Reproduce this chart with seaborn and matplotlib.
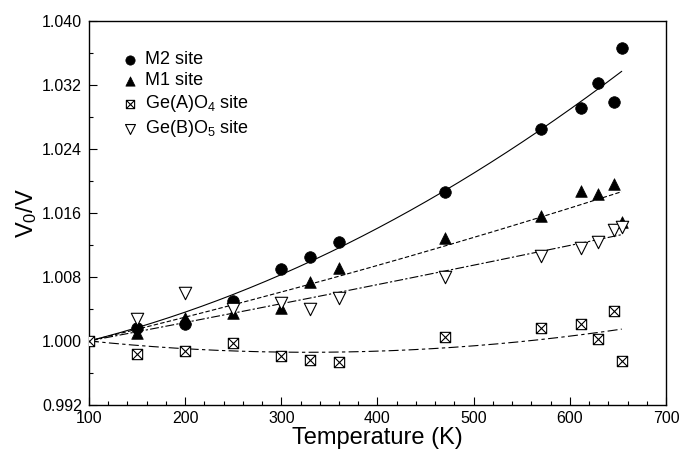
import numpy as np
import pandas as pd
import matplotlib
matplotlib.use("Agg")
import matplotlib.pyplot as plt
from matplotlib.path import Path
import seaborn as sns

# ---- data ----
temps = [100, 150, 200, 250, 300, 330, 360, 470, 570, 612, 629, 646, 654]
m2 = [1.0000, 1.00159, 1.00210, 1.00504, 1.00900, 1.01046, 1.01241, 1.01859, 1.02646, 1.02909, 1.03221, 1.02979, 1.03659]
m1 = [1.0000, 1.00104, 1.00284, 1.00346, 1.00409, 1.00741, 1.00909, 1.01284, 1.01563, 1.01875, 1.01834, 1.01959, 1.01491]
geA = [1.0000, 0.99834, 0.99875, 0.99979, 0.99813, 0.99763, 0.99741, 1.00046, 1.00159, 1.00213, 1.00021, 1.00379, 0.99754]
geB = [1.0000, 1.00271, 1.00604, 1.00396, 1.00471, 1.00396, 1.00534, 1.00804, 1.01063, 1.01159, 1.01241, 1.01388, 1.01420]
labels = ["M2 site", "M1 site", "Ge(A)O$_4$ site", "Ge(B)O$_5$ site"]
xticks = [100, 200, 300, 400, 500, 600, 700]
yticks = [0.992, 1.000, 1.008, 1.016, 1.024, 1.032, 1.040]

sns.set_style("ticks")
plt.rcParams["font.family"] = ["Liberation Sans", "DejaVu Sans"]
plt.rcParams["mathtext.fontset"] = "custom"
plt.rcParams["mathtext.rm"] = "Liberation Sans"
plt.rcParams["mathtext.it"] = "Liberation Sans:italic"
plt.rcParams["text.color"] = "black"
plt.rcParams["axes.labelcolor"] = "black"
plt.rcParams["xtick.color"] = "black"
plt.rcParams["ytick.color"] = "black"
plt.rcParams["axes.edgecolor"] = "black"

fig = plt.figure(figsize=(6.82, 4.5), dpi=100)
ax = fig.add_axes([0.1305, 0.10, 0.846, 0.854])

T = np.array(temps, dtype=float)


def fit_curve(y):
    y = np.array(y)
    dT = T - 100
    A = np.column_stack([dT, dT ** 2])
    coef, *_ = np.linalg.lstsq(A, y - 1, rcond=None)
    tf = np.linspace(100, 654, 200)
    return tf, 1 + coef[0] * (tf - 100) + coef[1] * (tf - 100) ** 2


# custom box-with-cross marker
box_x = Path([(-1, -1), (1, -1), (1, 1), (-1, 1), (-1, -1),
              (-1, -1), (1, 1), (-1, 1), (1, -1)],
             [Path.MOVETO, Path.LINETO, Path.LINETO, Path.LINETO, Path.CLOSEPOLY,
              Path.MOVETO, Path.LINETO, Path.MOVETO, Path.LINETO])

series = [
    (m2, "-", dict(marker="o", s=70, color="black", edgecolor="black", linewidth=0.5), slice(1, None)),
    (m1, (0, (4, 2)), dict(marker="^", s=70, color="black", edgecolor="black", linewidth=0.5), slice(1, None)),
    (geA, (0, (9, 3, 3, 3)), dict(marker=box_x, s=55, facecolor="white", edgecolor="black", linewidth=0.8), slice(0, None)),
    (geB, (0, (8, 2, 2, 2)), dict(marker="v", s=80, facecolor="white", edgecolor="black", linewidth=0.8), slice(1, None)),
]

handles = []
for vals, ls, kw, sl in series:
    tf, yf = fit_curve(vals)
    sns.lineplot(x=tf, y=yf, ax=ax, color="black", linewidth=0.8, linestyle=ls)
for (vals, ls, kw, sl), lab in zip(series, labels):
    df = pd.DataFrame({"T": T[sl], "v": np.array(vals)[sl]})
    sns.scatterplot(data=df, x="T", y="v", ax=ax, zorder=3, **kw)
    handles.append(ax.collections[-1])

leg = ax.legend(handles, labels, loc="upper left", bbox_to_anchor=(0.055, 0.92),
                frameon=False, fontsize=13, handletextpad=0.35, labelspacing=0.22,
                handlelength=1.0, markerscale=0.8, borderaxespad=0.0, borderpad=0.0)

ax.set_xlim(100, 700)
ax.set_ylim(0.992, 1.040)
ax.set_xticks(xticks)
ax.set_yticks(yticks)
ax.set_xticks(np.arange(100, 701, 20), minor=True)
ax.set_yticks(np.arange(0.992, 1.0401, 0.004), minor=True)
ax.set_yticklabels([f"{v:.3f}" for v in yticks])
ax.tick_params(which="both", direction="in", labelsize=11.5, width=0.8)
ax.tick_params(which="major", length=5.5, pad=4)
ax.tick_params(which="minor", length=3)
ax.tick_params(axis="y", pad=5)
for s in ax.spines.values():
    s.set_visible(True)
    s.set_linewidth(1.0)

ax.set_xlabel("Temperature (K)", fontsize=17, labelpad=1)
ax.set_ylabel("V$_0$/V", fontsize=17, labelpad=2)

fig.savefig("out.png", dpi=100)
